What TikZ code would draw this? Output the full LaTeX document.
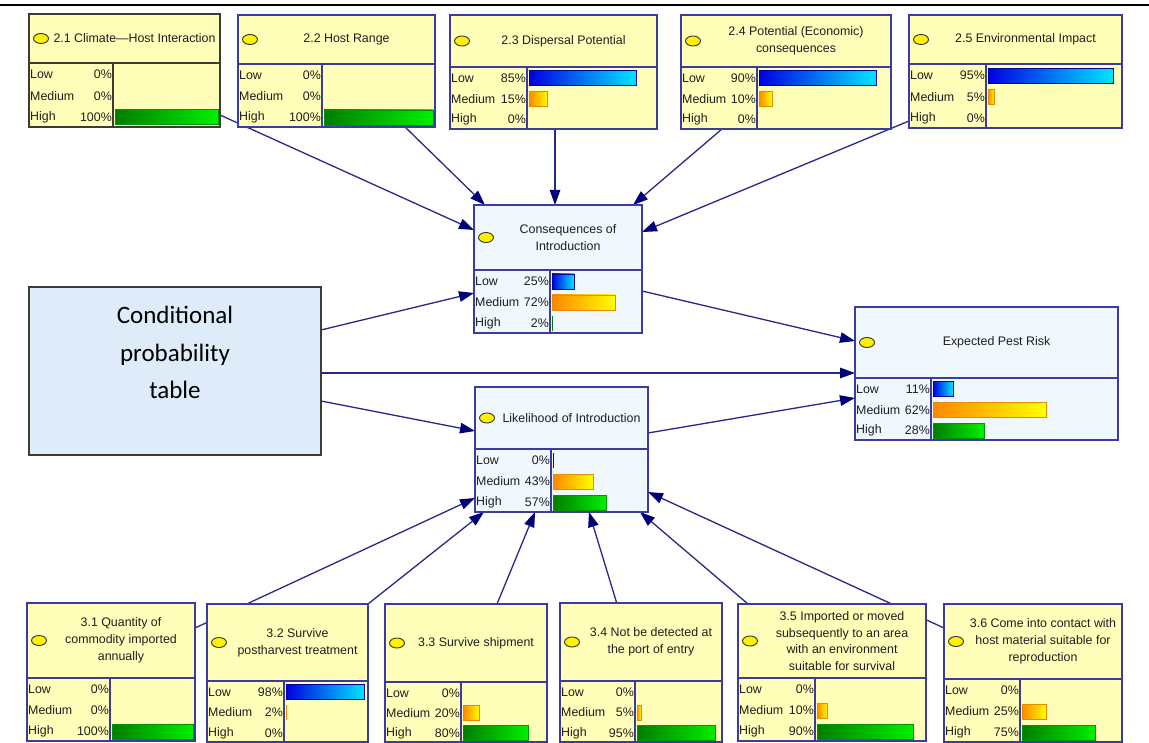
\documentclass[tikz,border=0pt]{standalone}
\usepackage{fontspec}
\setmainfont{Liberation Sans}
\newfontfamily\cptfont{Carlito}
\usetikzlibrary{arrows.meta,calc}
\definecolor{ylw}{RGB}{255,255,185}
\definecolor{lbl}{RGB}{240,247,253}
\definecolor{cptfill}{RGB}{221,236,248}
\definecolor{bord}{RGB}{60,60,160}
\definecolor{darkb}{RGB}{60,60,50}
\definecolor{arrc}{RGB}{40,40,140}
\definecolor{arrh}{RGB}{0,0,120}
\definecolor{txt}{RGB}{30,30,30}
\definecolor{b1l}{RGB}{0,0,225}
\definecolor{b1r}{RGB}{0,230,255}
\definecolor{b1d}{RGB}{0,0,160}
\definecolor{b2l}{RGB}{255,135,0}
\definecolor{b2r}{RGB}{255,255,0}
\definecolor{b2d}{RGB}{230,140,0}
\definecolor{b3l}{RGB}{0,125,0}
\definecolor{b3r}{RGB}{0,240,0}
\definecolor{b3d}{RGB}{0,150,0}
\pgfdeclarelayer{back}
\pgfdeclarelayer{bg}
\pgfsetlayers{back,bg,main}
\newcommand\netnode[9]{%
  \gdef\NNn{#1}\gdef\NNxa{#2}\gdef\NNya{#3}\gdef\NNxb{#4}\gdef\NNyb{#5}\gdef\NNyd{#6}\gdef\NNxc{#7}%
  \node[#8, anchor=north west, minimum width={(#4-#2)*1pt}, minimum height={(#5-#3)*1pt}] (#1) at (#2,#3) {};
  \draw[#8, fill=none] (#2,#6) -- (#4,#6) (#7,#6) -- (#7,#5);
  \draw[indic] ({#2+12},{(#3+#6)/2}) ellipse [x radius=7.5, y radius=5];
  \node[ttl] (#1-t) at ({(#2+20+#4)/2},{(#3+#6)/2}) {#9};
}
\newcommand\netrow[4]{%
  \pgfmathsetmacro\NNyc{\NNyd+(\NNyb-\NNyd)*(2*#1-1)/6+1}%
  \node[rowtxt, anchor=west] (\NNn-l#1) at ({\NNxa+1},\NNyc) {#2};
  \node[rowtxt, anchor=east] (\NNn-p#1) at ({\NNxc-1},\NNyc) {#3\%};
  \pgfmathsetmacro\NNbw{#4/100*(\NNxb-\NNxc-4)}%
  \ifdim\NNbw pt>2pt
    \shade[bar#1] ({\NNxc+2},{\NNyc-7.5}) rectangle ({\NNxc+2+\NNbw},{\NNyc+7.5});
  \else\ifdim\NNbw pt>0pt
    \draw[barl#1] ({\NNxc+2.5},{\NNyc-7.5}) -- ({\NNxc+2.5},{\NNyc+7.5});
  \fi\fi
}
\newcommand\netrows[6]{\netrow{1}{Low}{#1}{#2}\netrow{2}{Medium}{#3}{#4}\netrow{3}{High}{#5}{#6}}
\begin{document}
\begin{tikzpicture}[x=1pt,y=-1pt,
  ybox/.style={draw=bord, fill=ylw, line width=1.3pt, inner sep=0pt, outer sep=0pt},
  lbox/.style={draw=bord, fill=lbl, line width=1.3pt, inner sep=0pt, outer sep=0pt},
  cptbox/.style={draw=darkb, fill=cptfill, line width=1.8pt, inner sep=0pt, outer sep=0pt},
  indic/.style={draw=black!80, fill=yellow, line width=0.9pt},
  ttl/.style={text=txt, align=center, font=\fontsize{12.4}{16.8}\selectfont, inner sep=0pt},
  rowtxt/.style={text=txt, font=\fontsize{12.4}{14}\selectfont, inner sep=0pt},
  cpttxt/.style={text=black, align=center, font=\cptfont\fontsize{25}{37.5}\selectfont, inner sep=0pt},
  bar1/.style={left color=b1l, right color=b1r, draw=b1d, line width=0.9pt},
  bar2/.style={left color=b2l, right color=b2r, draw=b2d, line width=0.9pt},
  bar3/.style={left color=b3l, right color=b3r, draw=b3d, line width=0.9pt},
  barl1/.style={draw=b1l, line width=1.2pt},
  barl2/.style={draw=b2l, line width=1.2pt},
  barl3/.style={draw=b3l, line width=1.2pt},
  arr/.style={draw=arrc, line width=1.3pt, -{Triangle[length=15pt,width=10.5pt,color=arrh]}}]
\useasboundingbox (0,0) rectangle (1149,743);
\begin{pgfonlayer}{back}
\fill[white] (0,0) rectangle (1149,743);
\end{pgfonlayer}
\draw[line width=2.5pt] (0,5.2) -- (1149,5.2);

% top row
\netnode{n21}{29}{14}{220}{127}{63}{113}{ybox,draw=darkb}{2.1 Climate—Host Interaction}
\netrows{0}{0}{0}{0}{100}{100}
\netnode{n22}{238}{15}{435}{127}{64}{322}{ybox}{2.2 Host Range}
\netrows{0}{0}{0}{0}{100}{100}
\netnode{n23}{450}{15}{657}{129}{67}{527}{ybox}{2.3 Dispersal Potential}
\netrows{85}{85}{15}{15}{0}{0}
\netnode{n24}{681}{15}{891}{129}{67}{757}{ybox}{2.4 Potential (Economic)\\consequences}
\netrows{90}{90}{10}{10}{0}{0}
\netnode{n25}{909}{15}{1122}{128}{64}{986}{ybox}{2.5 Environmental Impact}
\netrows{95}{95}{5}{5}{0}{0}

% middle
\netnode{cons}{474}{205}{642}{333}{270}{550}{lbox}{Consequences of\\Introduction}
\netrows{25}{25}{72}{72}{2}{2}
\netnode{like}{475}{387}{648}{512}{449}{551}{lbox}{Likelihood of Introduction}
\netrows{0}{0.6}{43}{43}{57}{57}
\netnode{epr}{855}{307}{1118}{440}{378}{931}{lbox}{Expected Pest Risk}
\netrows{11}{11}{62}{62}{28}{28}

\node[cptbox, anchor=north west, minimum width=292pt, minimum height=168pt] (cpt) at (29,287) {};
\node[cpttxt] (cpt-t) at (175,352.5) {Conditional\\probability\\table};

% bottom row
\netnode{n31}{27}{603}{195}{741}{678}{110}{ybox}{3.1 Quantity of\\commodity imported\\annually}
\netrows{0}{0}{0}{0}{100}{100}
\netnode{n32}{207}{604}{368}{742}{681}{284}{ybox}{3.2 Survive\\postharvest treatment}
\netrows{98}{98}{2}{2}{0}{0}
\netnode{n33}{385}{604}{547}{742}{682}{461}{ybox}{3.3 Survive shipment}
\netrows{0}{0}{20}{20}{80}{80}
\netnode{n34}{560}{603}{722}{742}{681}{635}{ybox}{3.4 Not be detected at\\the port of entry}
\netrows{0}{0}{5}{5}{95}{95}
\netnode{n35}{738}{604}{926}{741}{678}{815}{ybox}{3.5 Imported or moved\\subsequently to an area\\with an environment\\suitable for survival}
\netrows{0}{0}{10}{10}{90}{90}
\netnode{n36}{944}{604}{1122}{742}{679}{1020}{ybox}{3.6 Come into contact with\\host material suitable for\\reproduction}
\netrows{0}{0}{25}{25}{75}{75}

\begin{pgfonlayer}{bg}
\draw[arr] ($(n21.north west)+(191,101)$) -- ($(cons.north west)+(0,25)$);
\draw[arr] ($(n22.north west)+(167,112)$) -- ($(cons.north west)+(11,0)$);
\draw[arr] ($(n23.north west)+(105,114)$) -- ($(cons.north west)+(81,0)$);
\draw[arr] ($(n24.north west)+(41,114)$) -- ($(cons.north west)+(159,0)$);
\draw[arr] ($(n25.north west)+(0,106)$) -- ($(cons.north west)+(168,27)$);
\draw[arr] ($(cpt.north west)+(292,43)$) -- ($(cons.north west)+(0,88)$);
\draw[arr] ($(cpt.north west)+(292,86)$) -- ($(epr.north west)+(0,66)$);
\draw[arr] ($(cpt.north west)+(292,114)$) -- ($(like.north west)+(0,44)$);
\draw[arr] ($(cons.north west)+(168,86)$) -- ($(epr.north west)+(0,34)$);
\draw[arr] ($(like.north west)+(173,46)$) -- ($(epr.north west)+(0,91)$);
\draw[arr] ($(n31.north west)+(168,25)$) -- ($(like.north west)+(0,111)$);
\draw[arr] ($(n32.north west)+(161,0)$) -- ($(like.north west)+(9,125)$);
\draw[arr] ($(n33.north west)+(112,0)$) -- ($(like.north west)+(60,125)$);
\draw[arr] ($(n34.north west)+(57,1)$) -- ($(like.north west)+(114,125)$);
\draw[arr] ($(n35.north west)+(10,0)$) -- ($(like.north west)+(165,125)$);
\draw[arr] ($(n36.north west)+(0,24)$) -- ($(like.north west)+(173,105)$);
\end{pgfonlayer}
\end{tikzpicture}
\end{document}
